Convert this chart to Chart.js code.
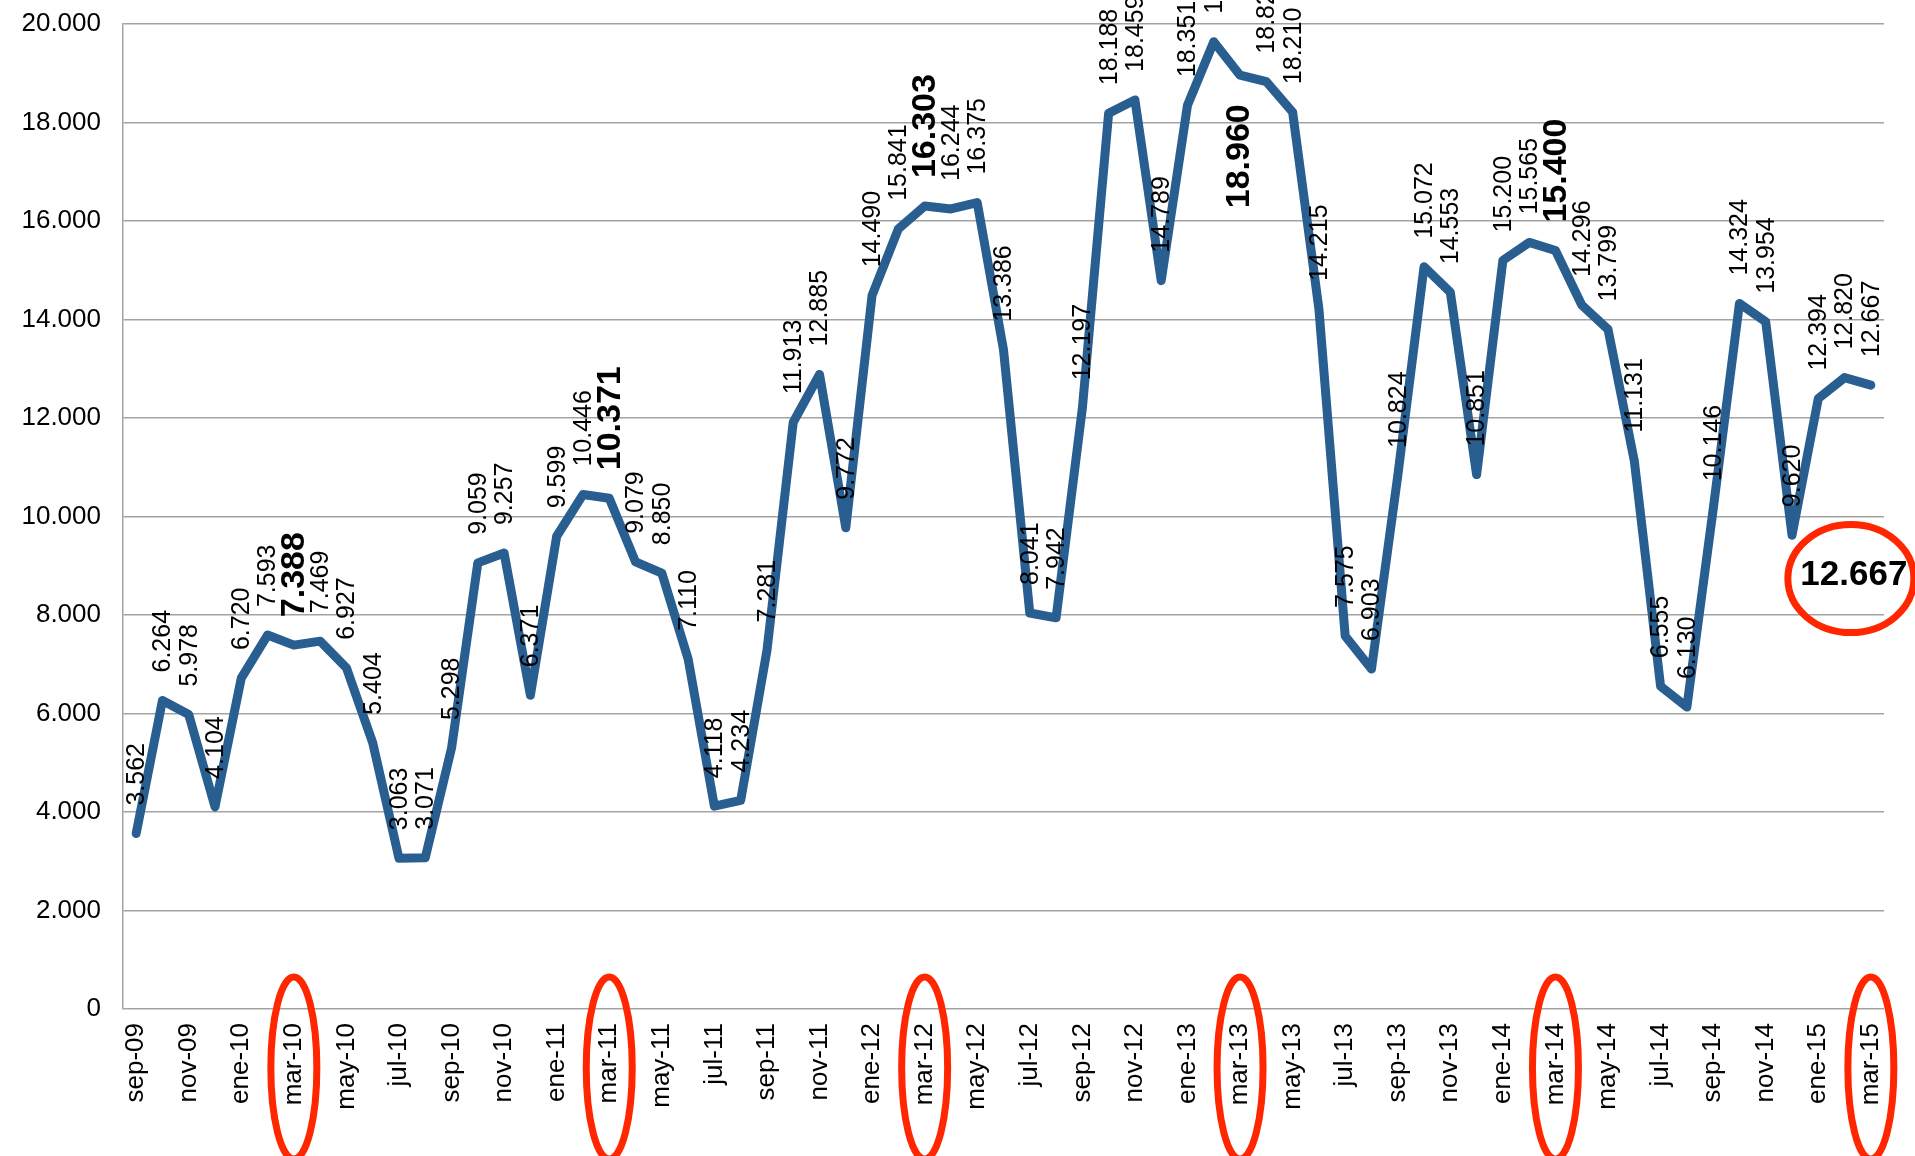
<!DOCTYPE html>
<html>
<head>
<meta charset="utf-8">
<script src="https://cdn.jsdelivr.net/npm/chart.js@4"></script>
<style>
  html, body { margin: 0; padding: 0; background: #fff; }
  #wrap { width: 1915px; height: 1156px; position: relative; }
</style>
</head>
<body>
<div id="wrap"><canvas id="grafico"></canvas></div>
<script>
// Meses (sep-09 a mar-15)
const meses = [
  "sep-09", "oct-09", "nov-09", "dic-09",
  "ene-10", "feb-10", "mar-10", "abr-10", "may-10", "jun-10", "jul-10", "ago-10", "sep-10", "oct-10", "nov-10", "dic-10",
  "ene-11", "feb-11", "mar-11", "abr-11", "may-11", "jun-11", "jul-11", "ago-11", "sep-11", "oct-11", "nov-11", "dic-11",
  "ene-12", "feb-12", "mar-12", "abr-12", "may-12", "jun-12", "jul-12", "ago-12", "sep-12", "oct-12", "nov-12", "dic-12",
  "ene-13", "feb-13", "mar-13", "abr-13", "may-13", "jun-13", "jul-13", "ago-13", "sep-13", "oct-13", "nov-13", "dic-13",
  "ene-14", "feb-14", "mar-14", "abr-14", "may-14", "jun-14", "jul-14", "ago-14", "sep-14", "oct-14", "nov-14", "dic-14",
  "ene-15", "feb-15", "mar-15"
];

const valores = [
  3562, 6264, 5978, 4104,
  6720, 7593, 7388, 7469, 6927, 5404, 3063, 3071, 5298, 9059, 9257, 6371,
  9599, 10446, 10371, 9079, 8850, 7110, 4118, 4234, 7281, 11913, 12885, 9772,
  14490, 15841, 16303, 16244, 16375, 13386, 8041, 7942, 12197, 18188, 18459, 14789,
  18351, 19639, 18960, 18829, 18210, 14215, 7575, 6903, 10824, 15072, 14553, 10851,
  15200, 15565, 15400, 14296, 13799, 11131, 6555, 6130, 10146, 14324, 13954, 9620,
  12394, 12820, 12667
];

const ejeY = [0, 2000, 4000, 6000, 8000, 10000, 12000, 14000, 16000, 18000, 20000];

const fuente = "'Liberation Sans', Arial, Helvetica, sans-serif";
const rojo = "#ff2600";

function formato(v) {
  return String(Math.round(v)).replace(/\B(?=(\d{3})+(?!\d))/g, ".");
}

// etiquetas de datos giradas
const etiquetas = {
  id: "etiquetas",
  afterDatasetsDraw(chart) {
    const ctx = chart.ctx;
    const pts = chart.getDatasetMeta(0).data;
    const ultimo = pts.length - 1;
    ctx.save();
    ctx.fillStyle = "#000";
    ctx.textBaseline = "middle";
    pts.forEach((p, i) => {
      const mes = meses[i];
      const negrita = mes.startsWith("mar-") && i < ultimo;
      const abajo = mes === "mar-13";
      ctx.font = (negrita ? "bold 34px " : "25px ") + fuente;
      ctx.save();
      if (abajo) {
        ctx.translate(p.x, p.y + 29);
        ctx.rotate(-Math.PI / 2);
        ctx.textAlign = "right";
      } else {
        ctx.translate(p.x + 1, p.y - 28);
        ctx.rotate(-Math.PI / 2);
        ctx.textAlign = "left";
      }
      ctx.fillText(formato(valores[i]), 0, 0);
      ctx.restore();
    });
    ctx.restore();
  },
  afterDraw(chart) {
    const ctx = chart.ctx;
    const x = chart.scales.x;
    const y = chart.scales.y;
    ctx.save();
    ctx.strokeStyle = rojo;
    ctx.lineWidth = 7;
    // óvalos en los meses de marzo
    meses.forEach((m, i) => {
      if (!m.startsWith("mar-")) return;
      const cx = x.getPixelForValue(i);
      ctx.beginPath();
      ctx.ellipse(cx, chart.chartArea.bottom + 59, 23, 91, 0, 0, Math.PI * 2);
      ctx.stroke();
    });
    // último valor destacado
    const ult = valores.length - 1;
    const px = x.getPixelForValue(ult) - 17;
    const py = y.getPixelForValue(8800);
    ctx.beginPath();
    ctx.ellipse(px - 3, py + 3, 63, 54, 0, 0, Math.PI * 2);
    ctx.stroke();
    ctx.fillStyle = "#000";
    ctx.font = "bold 35px " + fuente;
    ctx.textAlign = "center";
    ctx.textBaseline = "middle";
    ctx.fillText(formato(valores[ult]), px, py);
    ctx.restore();
  }
};

const ctx = document.getElementById("grafico").getContext("2d");
const grafico = new Chart(ctx, {
  type: "line",
  data: {
    labels: meses,
    datasets: [{
      data: valores,
      borderColor: "#295e91",
      borderWidth: 9,
      borderJoinStyle: "round",
      borderCapStyle: "round",
      pointRadius: 0,
      tension: 0,
      fill: false
    }]
  },
  options: {
    responsive: true,
    maintainAspectRatio: false,
    animation: false,
    layout: { padding: { top: 24, right: 31, left: 0, bottom: 0 } },
    plugins: {
      legend: { display: false },
      tooltip: { enabled: false }
    },
    scales: {
      x: {
        offset: true,
        grid: { display: false, drawTicks: false },
        border: { display: false },
        afterFit(s) {
          s.height = 147;
          s.paddingLeft = 0; s.paddingRight = 0; s.paddingTop = 0; s.paddingBottom = 0;
        },
        ticks: {
          autoSkip: false,
          minRotation: 90,
          maxRotation: 90,
          padding: 14,
          color: "#000",
          font: { family: fuente, size: 26 },
          callback(v, i) { return i % 2 === 0 ? meses[i] : ""; }
        }
      },
      y: {
        min: 0,
        max: 20000,
        afterFit(s) {
          s.width = 123;
          s.paddingLeft = 0; s.paddingRight = 0; s.paddingTop = 0; s.paddingBottom = 0;
        },
        afterBuildTicks(s) { s.ticks = ejeY.map(v => ({ value: v })); },
        grid: { color: "#a3a3a3", lineWidth: 1.5, drawTicks: false },
        border: { color: "#a3a3a3", width: 1.5 },
        ticks: {
          padding: 22,
          color: "#000",
          font: { family: fuente, size: 26 },
          callback(v) { return formato(v); }
        }
      }
    }
  },
  plugins: [etiquetas]
});
</script>
</body>
</html>
